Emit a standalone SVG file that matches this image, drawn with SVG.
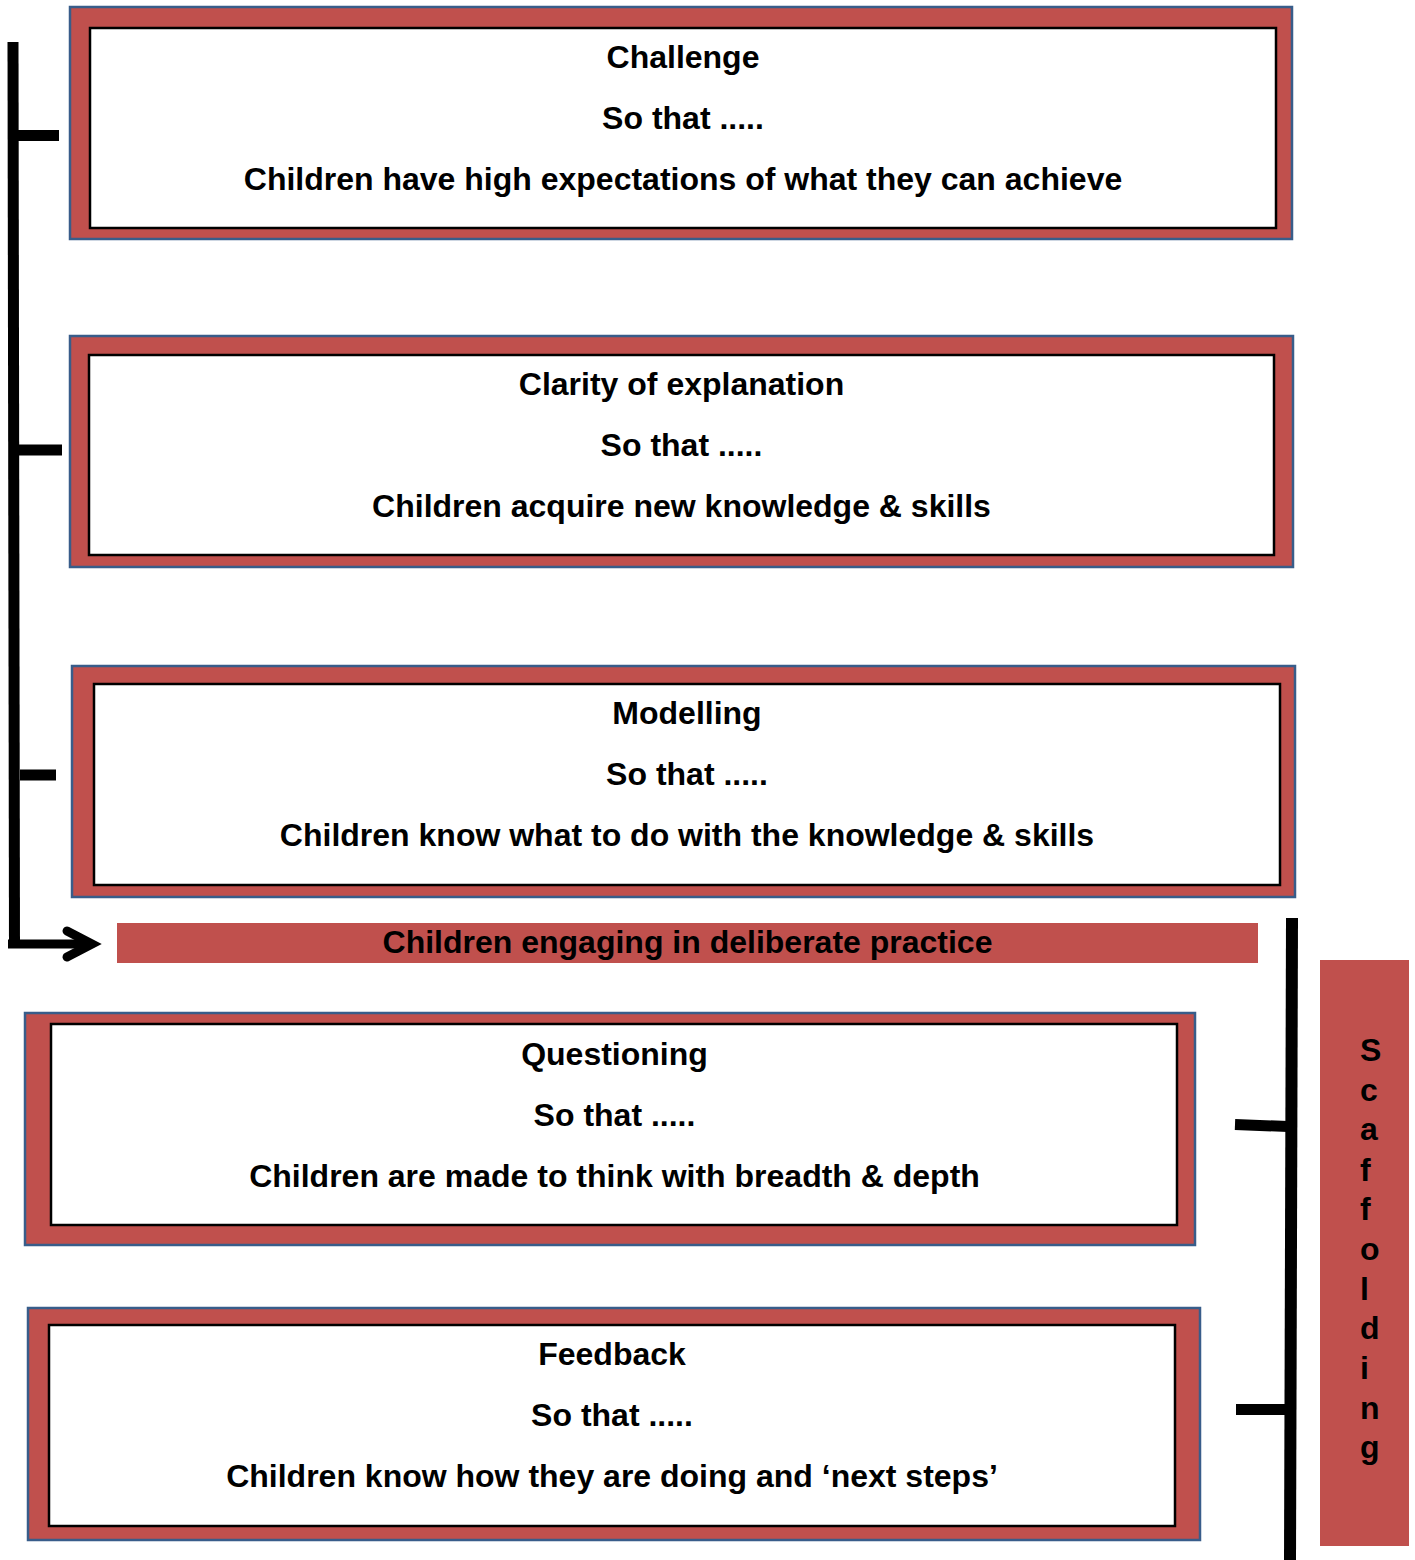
<svg xmlns="http://www.w3.org/2000/svg" width="1415" height="1560" viewBox="0 0 1415 1560">
<style>
.outer{fill:#C0504D;stroke:#385D8A;stroke-width:2.5}
.inner{fill:#FFFFFF;stroke:#000000;stroke-width:2.5}
.band{fill:#C0504D;stroke:none}
.t{font-family:"Liberation Sans",Arial,sans-serif;font-weight:bold;font-size:32px;fill:#000000;text-anchor:middle}
.s{font-family:"Liberation Sans",Arial,sans-serif;font-weight:bold;font-size:32px;fill:#000000}
.br{stroke:#000000;fill:none;stroke-linecap:butt}
</style>
<rect width="1415" height="1560" fill="#FFFFFF"/>
<g id="connectors">
<line class="br" x1="13" y1="42" x2="14.5" y2="948" stroke-width="11"/>
<line class="br" x1="8" y1="944" x2="88" y2="944" stroke-width="9"/>
<polyline points="67,931 92,944 67,957" stroke="#000" stroke-width="9" fill="none" stroke-linecap="round" stroke-linejoin="miter"/>
<line class="br" x1="18" y1="135.5" x2="59" y2="135.5" stroke-width="11"/>
<line class="br" x1="19" y1="450" x2="62" y2="450" stroke-width="11"/>
<line class="br" x1="20" y1="775" x2="56" y2="775" stroke-width="11"/>
<line class="br" x1="1292" y1="918" x2="1290" y2="1560" stroke-width="12"/>
<line class="br" x1="1235" y1="1124.5" x2="1288" y2="1126.5" stroke-width="11"/>
<line class="br" x1="1236" y1="1409.5" x2="1288" y2="1409.5" stroke-width="11"/>
</g>
<g id="node-challenge">
<rect class="outer" x="70" y="7" width="1222" height="232"/>
<rect class="inner" x="90" y="28" width="1186" height="200"/>
<text class="t" x="683" y="68">Challenge</text>
<text class="t" x="683" y="129">So that .....</text>
<text class="t" x="683" y="190">Children have high expectations of what they can achieve</text>
</g>
<g id="node-clarity">
<rect class="outer" x="70" y="336" width="1223" height="231"/>
<rect class="inner" x="89" y="355" width="1185" height="200"/>
<text class="t" x="681.5" y="395">Clarity of explanation</text>
<text class="t" x="681.5" y="456">So that .....</text>
<text class="t" x="681.5" y="517">Children acquire new knowledge &amp; skills</text>
</g>
<g id="node-modelling">
<rect class="outer" x="72" y="666" width="1223" height="231"/>
<rect class="inner" x="94" y="684" width="1186" height="201"/>
<text class="t" x="687" y="724">Modelling</text>
<text class="t" x="687" y="785">So that .....</text>
<text class="t" x="687" y="846">Children know what to do with the knowledge &amp; skills</text>
</g>
<g id="node-practice">
<rect class="band" x="117" y="923" width="1141" height="40"/>
<text class="t" x="687.5" y="953">Children engaging in deliberate practice</text>
</g>
<g id="node-questioning">
<rect class="outer" x="25" y="1013" width="1170" height="232"/>
<rect class="inner" x="51" y="1024" width="1126" height="201"/>
<text class="t" x="614.5" y="1065">Questioning</text>
<text class="t" x="614.5" y="1126">So that .....</text>
<text class="t" x="614.5" y="1187">Children are made to think with breadth &amp; depth</text>
</g>
<g id="node-feedback">
<rect class="outer" x="28" y="1308" width="1172" height="232"/>
<rect class="inner" x="49" y="1325" width="1126" height="201"/>
<text class="t" x="612" y="1365">Feedback</text>
<text class="t" x="612" y="1426">So that .....</text>
<text class="t" x="612" y="1487">Children know how they are doing and ‘next steps’</text>
</g>
<g id="node-scaffolding">
<rect class="band" x="1320" y="960" width="89" height="586"/>
<text class="s"><tspan x="1360" y="1061">S</tspan><tspan x="1360" y="1101">c</tspan><tspan x="1360" y="1140">a</tspan><tspan x="1360" y="1181">f</tspan><tspan x="1360" y="1220">f</tspan><tspan x="1360" y="1260">o</tspan><tspan x="1360" y="1300">l</tspan><tspan x="1360" y="1339">d</tspan><tspan x="1360" y="1379">i</tspan><tspan x="1360" y="1419">n</tspan><tspan x="1360" y="1458">g</tspan></text>
</g>
</svg>
